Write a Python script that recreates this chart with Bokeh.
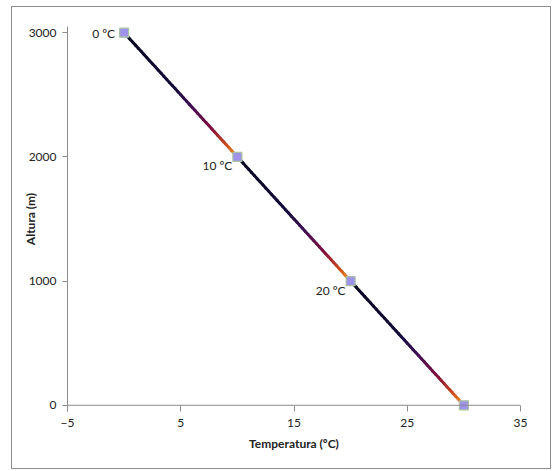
import numpy as np
from bokeh.plotting import figure
from bokeh.models import Range1d, FixedTicker, Span, ColumnDataSource
from bokeh.core.properties import value
from bokeh.embed import file_html
from bokeh.resources import INLINE

temperatura = [0, 10, 20, 30]
altura = [3000, 2000, 1000, 0]
etiquetas = ["0 ºC", "10 ºC", "20 ºC", ""]
x_ticks = [-5, 5, 15, 25, 35]
y_ticks = [0, 1000, 2000, 3000]

FONT = "Lato"

p = figure(width=538, height=461, output_backend="svg", toolbar_location=None,
           x_range=Range1d(-5, 35), y_range=Range1d(-50, 3050),
           frame_width=453, frame_height=385,
           min_border_left=55, min_border_right=30, min_border_top=19, min_border_bottom=57,
           margin=(6, 4, 4, 11))
p.styles = {"border": "1px solid #8c8c8c"}
p.outline_line_color = None
p.xgrid.visible = False
p.ygrid.visible = False
p.background_fill_color = "white"
p.border_fill_color = "white"

# x axis
xa = p.xaxis[0]
xa.ticker = FixedTicker(ticks=x_ticks)
xa.axis_line_color = None
xa.major_tick_in = 6
xa.major_tick_out = 0
xa.minor_tick_line_color = None
xa.major_tick_line_color = "#8c8c8c"
xa.major_label_standoff = 7
xa.major_label_text_font = FONT
xa.major_label_text_font_size = "12px"
xa.major_label_text_color = "#222222"
xa.axis_label = "Temperatura (ºC)"
xa.axis_label_text_font = FONT
xa.axis_label_text_font_style = "bold"
xa.axis_label_text_font_size = "12px"
xa.axis_label_text_color = "#222222"
xa.axis_label_standoff = 6

# y axis
ya = p.yaxis[0]
ya.ticker = FixedTicker(ticks=y_ticks)
ya.axis_line_color = "#8c8c8c"
ya.major_tick_line_color = "#8c8c8c"
ya.major_tick_in = 0
ya.major_tick_out = 5
ya.minor_tick_line_color = None
ya.major_label_standoff = 6
ya.major_label_text_font = FONT
ya.major_label_text_font_size = "12px"
ya.major_label_text_color = "#222222"
ya.axis_label = "Altura (m)"
ya.axis_label_text_font = FONT
ya.axis_label_text_font_style = "bold"
ya.axis_label_text_font_size = "12px"
ya.axis_label_text_color = "#222222"
ya.axis_label_standoff = -12

# x axis line at y = 0
p.add_layout(Span(location=0, dimension="width", line_color="#8c8c8c", line_width=1))

# gradient line for each segment (styling: colour stops along each segment)
stops = [(0.0, (8, 8, 32)), (0.45, (20, 12, 60)), (0.6, (65, 14, 85)),
         (0.78, (130, 16, 60)), (0.9, (200, 70, 30)), (1.0, (240, 145, 30))]
def grad(t):
    for (t0, c0), (t1, c1) in zip(stops[:-1], stops[1:]):
        if t <= t1:
            f = (t - t0) / (t1 - t0)
            c = [int(round(a + (b - a) * f)) for a, b in zip(c0, c1)]
            return "#%02x%02x%02x" % tuple(c)
    return "#%02x%02x%02x" % stops[-1][1]

xs, ys, cols = [], [], []
n = 40
for i in range(len(temperatura) - 1):
    x0, x1 = temperatura[i], temperatura[i + 1]
    y0, y1 = altura[i], altura[i + 1]
    ts = np.linspace(0, 1, n + 1)
    for k in range(n):
        xs.append([x0 + (x1 - x0) * ts[k], x0 + (x1 - x0) * ts[k + 1]])
        ys.append([y0 + (y1 - y0) * ts[k], y0 + (y1 - y0) * ts[k + 1]])
        cols.append(grad((ts[k] + ts[k + 1]) / 2))
p.multi_line(xs=xs, ys=ys, line_color=cols, line_width=3, line_cap="round")

# markers
src = ColumnDataSource(dict(x=temperatura, y=altura, lab=etiquetas))
p.scatter(x="x", y="y", source=src, marker="square", size=9,
          fill_color="#9e92ea", line_color="#a9c3a0", line_width=1.2)

# data labels
src0 = ColumnDataSource(dict(x=temperatura[:1], y=altura[:1], lab=etiquetas[:1]))
src1 = ColumnDataSource(dict(x=temperatura[1:3], y=altura[1:3], lab=etiquetas[1:3]))
p.text(x="x", y="y", text="lab", source=src0, text_align="right", text_baseline="middle",
       x_offset=-9, y_offset=1, text_font=value(FONT), text_font_size="12px", text_color="#222222")
p.text(x="x", y="y", text="lab", source=src1, text_align="right", text_baseline="middle",
       x_offset=-5, y_offset=9, text_font=value(FONT), text_font_size="12px", text_color="#222222")

open("out.html", "w").write(file_html(p, INLINE))
